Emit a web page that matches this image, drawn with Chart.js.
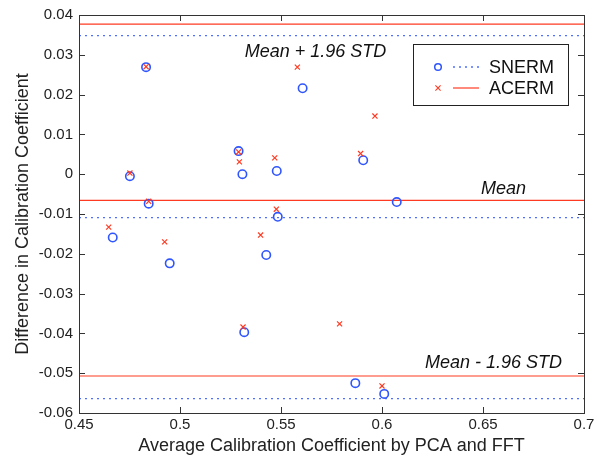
<!DOCTYPE html>
<html>
<head>
<meta charset="utf-8">
<script src="https://cdn.jsdelivr.net/npm/chart.js@4.4.1/dist/chart.umd.min.js"></script>
<style>
  html, body { margin: 0; padding: 0; background: #fff; }
  #wrap { width: 599px; height: 457px; }
</style>
</head>
<body>
<div id="wrap"><canvas id="baChart" width="599" height="457"></canvas></div>
<script>
// data
const snermX = [0.4832, 0.4752, 0.4845, 0.5290, 0.5309, 0.5479, 0.5484, 0.5607,
                0.5907, 0.6073, 0.4667, 0.4949, 0.5427, 0.5318, 0.5868, 0.6011];
const snermY = [0.0269, -0.0005, -0.0074, 0.0058, 0.0000, 0.0008, -0.0107, 0.0216,
                0.0035, -0.0070, -0.0159, -0.0224, -0.0203, -0.0397, -0.0525, -0.0552];

const acermX = [0.4832, 0.4752, 0.4845, 0.5290, 0.5294, 0.5469, 0.5477, 0.4647,
                0.5581, 0.5965, 0.5894, 0.4924, 0.5399, 0.5312, 0.5790, 0.6000];
const acermY = [0.0270, 0.0003, -0.0068, 0.0056, 0.0031, 0.0041, -0.0088, -0.0133,
                0.0269, 0.0146, 0.0052, -0.0170, -0.0153, -0.0384, -0.0376, -0.0532];

// mean + 1.96 STD, mean, mean - 1.96 STD
const snermLimits = [0.0348, -0.0109, -0.0564];
const acermLimits = [0.0377, -0.0066, -0.0507];

const xRange = [0.45, 0.7];
const yRange = [-0.06, 0.04];
const xTicks = [0.45, 0.5, 0.55, 0.6, 0.65, 0.7];
const yTicks = [-0.06, -0.05, -0.04, -0.03, -0.02, -0.01, 0, 0.01, 0.02, 0.03, 0.04];

const seriesNames = ["SNERM", "ACERM"];
const annoText = ["Mean + 1.96 STD", "Mean", "Mean - 1.96 STD"];
const annoX = [0.532, 0.649, 0.6213];
const annoY = [0.0295, -0.0050, -0.0487];

const BLUE = "#2f55ff";
const BLUE_LINE = "#4f70ff";
const RED = "#ff3a22";
const FONT = "'Liberation Sans', Arial, sans-serif";

const toPts = (xs, ys) => xs.map((x, i) => ({ x: x, y: ys[i] }));
const hline = v => [{ x: xRange[0], y: v }, { x: xRange[1], y: v }];

const datasets = [];
snermLimits.forEach(v => datasets.push({
  type: "line", data: hline(v), borderColor: BLUE_LINE, borderWidth: 1.3,
  borderDash: [2, 4], pointRadius: 0, fill: false, order: 5
}));
acermLimits.forEach(v => datasets.push({
  type: "line", data: hline(v), borderColor: RED, borderWidth: 1.2,
  pointRadius: 0, fill: false, order: 5
}));
datasets.push({
  label: seriesNames[0], type: "scatter", data: toPts(snermX, snermY),
  pointStyle: "circle", pointRadius: 4.2, borderColor: BLUE, borderWidth: 1.6,
  backgroundColor: "rgba(0,0,0,0)", order: 2
});
datasets.push({
  label: seriesNames[1], type: "scatter", data: toPts(acermX, acermY),
  pointStyle: "crossRot", pointRadius: 3.6, borderColor: RED, borderWidth: 1.2,
  backgroundColor: RED, order: 1
});

// box round the plot area with inward tick marks on all four sides
const framePlugin = {
  id: "frame",
  afterDraw(chart) {
    const { ctx, chartArea: a, scales } = chart;
    const len = 6;
    ctx.save();
    ctx.strokeStyle = "#333";
    ctx.lineWidth = 1;
    ctx.strokeRect(a.left + 0.5, a.top + 0.5, a.right - a.left, a.bottom - a.top);
    ctx.beginPath();
    xTicks.forEach(t => {
      const px = Math.round(scales.x.getPixelForValue(t)) + 0.5;
      ctx.moveTo(px, a.bottom); ctx.lineTo(px, a.bottom - len);
      ctx.moveTo(px, a.top); ctx.lineTo(px, a.top + len);
    });
    yTicks.forEach(t => {
      const py = Math.round(scales.y.getPixelForValue(t)) + 0.5;
      ctx.moveTo(a.left, py); ctx.lineTo(a.left + len, py);
      ctx.moveTo(a.right, py); ctx.lineTo(a.right - len, py);
    });
    ctx.stroke();
    ctx.restore();
  }
};

// italic labels beside the limit lines
const annoPlugin = {
  id: "anno",
  afterDatasetsDraw(chart) {
    const { ctx, scales } = chart;
    ctx.save();
    ctx.font = "italic 18px " + FONT;
    ctx.fillStyle = "#111";
    ctx.textAlign = "left";
    ctx.textBaseline = "alphabetic";
    annoText.forEach((t, i) => {
      ctx.fillText(t, scales.x.getPixelForValue(annoX[i]), scales.y.getPixelForValue(annoY[i]));
    });
    ctx.restore();
  }
};

// matlab style legend box in the top right corner
const legendPlugin = {
  id: "boxLegend",
  afterDraw(chart) {
    const { ctx, chartArea: a } = chart;
    const w = 155, h = 61;
    const x0 = a.right - 16 - w, y0 = a.top + 29;
    ctx.save();
    ctx.fillStyle = "#fff";
    ctx.fillRect(x0, y0, w, h);
    ctx.strokeStyle = "#222";
    ctx.lineWidth = 1;
    ctx.strokeRect(x0 + 0.5, y0 + 0.5, w, h);

    const rows = [y0 + 23, y0 + 44];
    const mx = x0 + 25;
    // SNERM
    ctx.strokeStyle = BLUE; ctx.lineWidth = 1.5;
    ctx.beginPath(); ctx.arc(mx, rows[0], 3.3, 0, Math.PI * 2); ctx.stroke();
    ctx.strokeStyle = BLUE_LINE; ctx.lineWidth = 1.3; ctx.setLineDash([2, 4]);
    ctx.beginPath(); ctx.moveTo(x0 + 40, rows[0]); ctx.lineTo(x0 + 66, rows[0]); ctx.stroke();
    ctx.setLineDash([]);
    // ACERM
    ctx.strokeStyle = RED; ctx.lineWidth = 1.1;
    ctx.beginPath();
    ctx.moveTo(mx - 2.6, rows[1] - 2.6); ctx.lineTo(mx + 2.6, rows[1] + 2.6);
    ctx.moveTo(mx - 2.6, rows[1] + 2.6); ctx.lineTo(mx + 2.6, rows[1] - 2.6);
    ctx.stroke();
    ctx.lineWidth = 1.2;
    ctx.beginPath(); ctx.moveTo(x0 + 40, rows[1]); ctx.lineTo(x0 + 66, rows[1]); ctx.stroke();

    ctx.font = "18px " + FONT;
    ctx.fillStyle = "#111";
    ctx.textBaseline = "middle";
    ctx.textAlign = "left";
    seriesNames.forEach((n, i) => ctx.fillText(n, x0 + 76, rows[i] + 1));
    ctx.restore();
  }
};

const fmt = v => String(Number(v.toFixed(2)));

new Chart(document.getElementById("baChart").getContext("2d"), {
  type: "scatter",
  data: { datasets: datasets },
  options: {
    responsive: false,
    animation: false,
    layout: { padding: { top: 15, right: 15, left: 0, bottom: 0 } },
    plugins: { legend: { display: false }, tooltip: { enabled: false } },
    scales: {
      x: {
        type: "linear", min: xRange[0], max: xRange[1],
        afterBuildTicks: s => { s.ticks = xTicks.map(v => ({ value: v })); },
        afterFit: s => { s.height = 44; },
        grid: { display: false, drawTicks: false },
        border: { display: false },
        ticks: { padding: 3, color: "#222", font: { family: FONT, size: 15 }, callback: fmt, maxRotation: 0 },
        title: {
          display: true, text: "Average Calibration Coefficient by PCA and FFT",
          color: "#222", font: { family: FONT, size: 18 }, padding: 0
        }
      },
      y: {
        type: "linear", min: yRange[0], max: yRange[1],
        afterBuildTicks: s => { s.ticks = yTicks.map(v => ({ value: v })); },
        afterFit: s => { s.width = 79; },
        grid: { display: false, drawTicks: false },
        border: { display: false },
        ticks: { padding: 6, color: "#222", font: { family: FONT, size: 15 }, callback: fmt },
        title: {
          display: true, text: "Difference in Calibration Coefficient",
          color: "#222", font: { family: FONT, size: 18 }, padding: { top: 12, bottom: 0 }
        }
      }
    }
  },
  plugins: [framePlugin, annoPlugin, legendPlugin]
});
</script>
</body>
</html>
